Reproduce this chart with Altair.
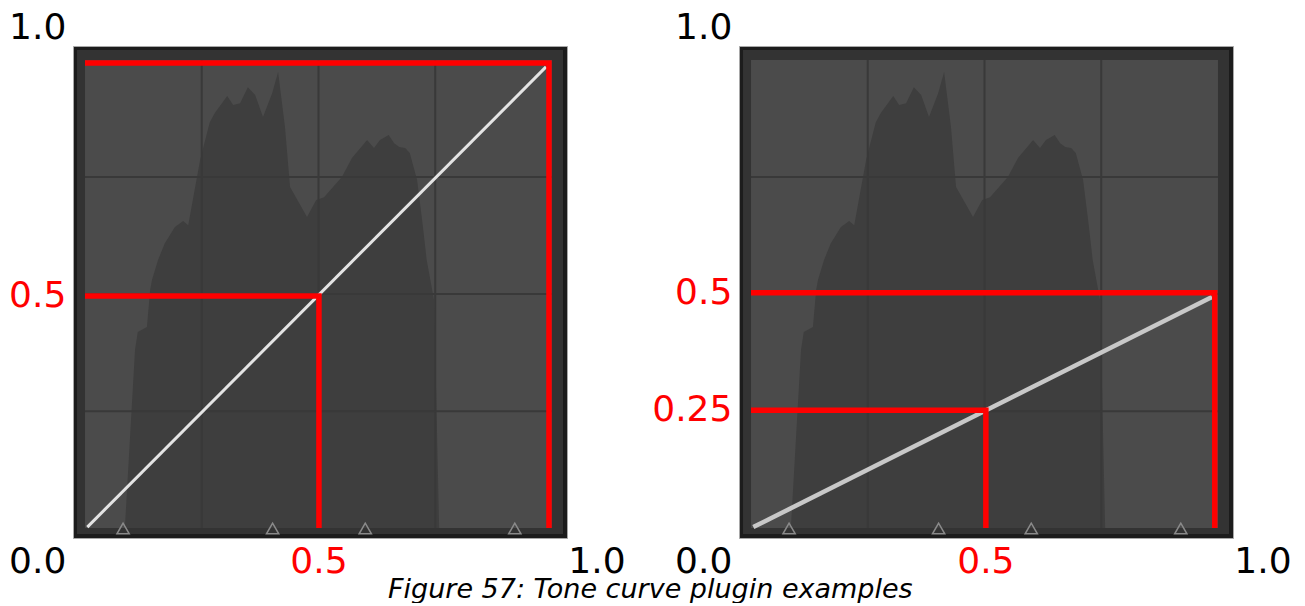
import altair as alt
import pandas as pd

# ---------------- data ----------------
# image histogram drawn behind both curves (input tone, relative count)
hist_x = [0.082, 0.104, 0.110, 0.130, 0.137, 0.141, 0.154, 0.169, 0.191, 0.209,
          0.220, 0.230, 0.246, 0.267, 0.278, 0.305, 0.318, 0.333, 0.350, 0.366,
          0.383, 0.403, 0.416, 0.431, 0.442, 0.479, 0.499, 0.516, 0.555, 0.577,
          0.610, 0.625, 0.638, 0.657, 0.669, 0.680, 0.693, 0.703, 0.719, 0.730,
          0.740, 0.756, 0.767]
hist_y = [0.0, 0.385, 0.424, 0.435, 0.515, 0.537, 0.580, 0.617, 0.652, 0.665,
          0.656, 0.711, 0.798, 0.880, 0.900, 0.937, 0.917, 0.921, 0.956, 0.939,
          0.891, 0.943, 0.989, 0.869, 0.739, 0.674, 0.711, 0.717, 0.761, 0.802,
          0.841, 0.824, 0.841, 0.852, 0.834, 0.826, 0.824, 0.813, 0.754, 0.667,
          0.580, 0.493, 0.0]

# widget frame band, curve area and its 4x4 grid
frame_x = [-0.02245, 1.0371]
frame_y = [-0.015, 1.0367]
inner_x = [-0.005, 1.013]
inner_y = [-0.002, 1.015]
grid_x = [0.2495, 0.504, 0.7585]
grid_y = [0.252, 0.5065, 0.761]

# histogram markers (triangles) below the curve
marker_x = [0.078, 0.404, 0.606, 0.932]
marker_y = -0.003

# tone curves
curve_x = [0.0, 1.0]
curve_left_y = [0.0, 1.0]
curve_right_y = [0.0, 0.5]

# red guide lines: input value (x) -> output value (y)
guide_left_x = [0.505, 1.0065]
guide_left_y = [0.502, 1.0085]
guide_right_x = [0.507, 1.006]
guide_right_y = [0.254, 0.509]

# labels
side_left_text = ["1.0", "0.5", "0.0"]
side_left_y = [1.0856, 0.502, -0.076]
side_left_color = ["#000000", "#ff0000", "#000000"]
side_right_text = ["1.0", "0.5", "0.25", "0.0"]
side_right_y = [1.0856, 0.509, 0.254, -0.076]
side_right_color = ["#000000", "#ff0000", "#ff0000", "#000000"]
label_x = -0.0456
bottom_text = ["0.5", "1.0"]
bottom_left_x = [0.505, 1.111]
bottom_right_x = [0.507, 1.111]
bottom_color = ["#ff0000", "#000000"]
bottom_y = -0.076

caption = "Figure 57: Tone curve plugin examples"

X_DOMAIN = [-0.03118, 1.04578]
Y_DOMAIN = [-0.02369, 1.04542]


def X(field):
    return alt.X(field, type="quantitative",
                 scale=alt.Scale(domain=X_DOMAIN, nice=False, zero=False), axis=None)


def Y(field):
    return alt.Y(field, type="quantitative",
                 scale=alt.Scale(domain=Y_DOMAIN, nice=False, zero=False), axis=None)


def box(xs, ys, color):
    return alt.Chart(pd.DataFrame({"x0": [xs[0]], "x1": [xs[1]],
                                   "y0": [ys[0]], "y1": [ys[1]]})).mark_rect(
        fill=color).encode(x=X("x0"), x2="x1", y=Y("y0"), y2="y1")


def panel(curve_y, curve_color, curve_width, gx, gy, side_text, side_y, side_color, bottom_x):
    band = box(frame_x, frame_y, "#333333")
    inner = box(inner_x, inner_y, "#4b4b4b")

    hist = alt.Chart(pd.DataFrame({"x": hist_x, "y": hist_y, "b": inner_y[0]})).mark_area(
        color="#3e3e3e", interpolate="linear", orient="vertical").encode(
        x=X("x"), y=Y("y"), y2="b")

    gridv = alt.Chart(pd.DataFrame({"x": grid_x, "y0": inner_y[0], "y1": inner_y[1]})).mark_rule(
        color="#393939", strokeWidth=2).encode(x=X("x"), y=Y("y0"), y2="y1")
    gridh = alt.Chart(pd.DataFrame({"y": grid_y, "x0": inner_x[0], "x1": inner_x[1]})).mark_rule(
        color="#393939", strokeWidth=2).encode(y=Y("y"), x=X("x0"), x2="x1")

    markers = alt.Chart(pd.DataFrame({"x": marker_x, "y": marker_y})).mark_point(
        shape="triangle-up", filled=False, color="#8a8a8a", size=150, strokeWidth=1.5,
        opacity=1).encode(x=X("x"), y=Y("y"))

    curve = alt.Chart(pd.DataFrame({"x": curve_x, "y": curve_y})).mark_line(
        color=curve_color, strokeWidth=curve_width).encode(x=X("x"), y=Y("y"))

    rows = []
    for i, (cx, cy) in enumerate(zip(gx, gy)):
        pts = [(inner_x[0], cy), (cx, cy), (cx, inner_y[0])]
        for k, (px, py) in enumerate(pts):
            rows.append({"x": px, "y": py, "seg": i, "ord": k})
    guides = alt.Chart(pd.DataFrame(rows)).mark_line(
        color="#ff0000", strokeWidth=5.5, strokeJoin="miter", strokeCap="butt").encode(
        x=X("x"), y=Y("y"), detail="seg:N", order="ord:Q")

    side = alt.Chart(pd.DataFrame({"t": side_text, "y": side_y, "x": label_x,
                                   "c": side_color})).mark_text(
        font="DejaVu Sans", fontSize=36, align="right", baseline="middle").encode(
        x=X("x"), y=Y("y"), text="t:N", color=alt.Color("c:N", scale=None))

    bottom = alt.Chart(pd.DataFrame({"t": bottom_text, "x": bottom_x, "y": bottom_y,
                                     "c": bottom_color})).mark_text(
        font="DejaVu Sans", fontSize=36, align="center", baseline="middle").encode(
        x=X("x"), y=Y("y"), text="t:N", color=alt.Color("c:N", scale=None))

    return alt.layer(band, inner, hist, gridv, gridh, markers, curve, guides,
                     side, bottom).properties(width=494, height=492)


left = panel(curve_left_y, "#e4e4e4", 3, guide_left_x, guide_left_y,
             side_left_text, side_left_y, side_left_color, bottom_left_x)
right = panel(curve_right_y, "#c8c8c8", 4.5, guide_right_x, guide_right_y,
              side_right_text, side_right_y, side_right_color, bottom_right_x)

chart = alt.hconcat(left, right, spacing=172, bounds="flush").properties(
    title=alt.TitleParams(caption, orient="bottom", anchor="middle", font="DejaVu Sans",
                          fontStyle="italic", fontWeight="normal", fontSize=27,
                          color="#000000", offset=-4),
    padding={"left": 0, "top": 1, "right": 0, "bottom": 0},
).configure(
    background="white",
    view=alt.ViewConfig(fill="#1c1c1c", stroke="#a8a8a8", strokeWidth=1),
)

chart.save("out.html", embed_options={"renderer": "svg", "actions": False})
